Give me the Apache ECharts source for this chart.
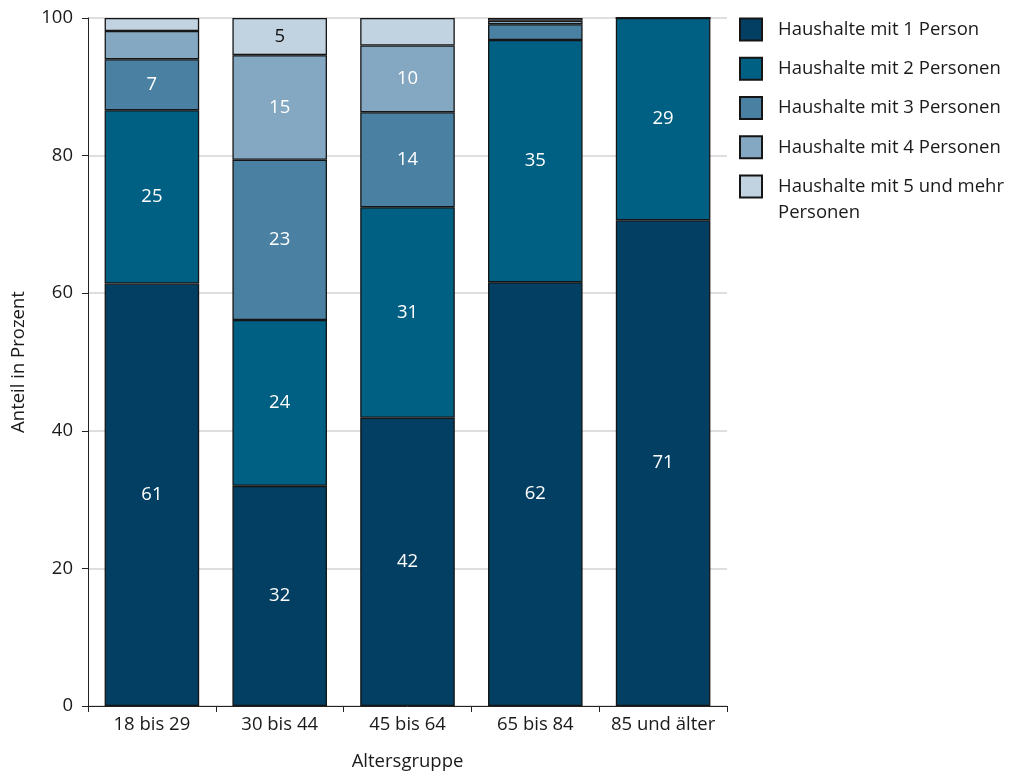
<!DOCTYPE html>
<html>
<head>
<meta charset="utf-8">
<script src="https://cdn.jsdelivr.net/npm/echarts@6/dist/echarts.min.js"></script>
<style>html,body{margin:0;padding:0;background:#fff;}#c{width:1011px;height:771px;}</style>
</head>
<body>
<div id="c"></div>
<script>
const categories = ['18 bis 29', '30 bis 44', '45 bis 64', '65 bis 84', '85 und älter'];
const seriesNames = ['Haushalte mit 1 Person', 'Haushalte mit 2 Personen', 'Haushalte mit 3 Personen', 'Haushalte mit 4 Personen', 'Haushalte mit 5 und mehr Personen'];
const p1 = [61.4, 32.0, 41.9, 61.6, 70.6];
const p2 = [25.2, 24.1, 30.6, 35.2, 29.4];
const p3 = [7.4, 23.3, 13.8, 2.3, 0];
const p4 = [4.1, 15.2, 9.7, 0.5, 0];
const p5 = [1.9, 5.4, 4.0, 0.4, 0];
const yTicks = [0, 20, 40, 60, 80, 100];

const colors = ['#023f62', '#006083', '#4a81a2', '#84a8c2', '#c1d2e1'];
const labelColors = ['#ffffff', '#ffffff', '#ffffff', '#ffffff', '#111111'];
const FONT = 'Open Sans';
const FS = 18.5;
const allData = [p1, p2, p3, p4, p5];

const legendBase = {
  orient: 'vertical', left: 739, padding: 0,
  itemWidth: 22, itemHeight: 22, itemGap: 15.25,
  icon: 'rect',
  textStyle: {fontFamily: FONT, fontSize: FS, color: '#1a1a1a', lineHeight: 24, padding: [0, 0, 0, 11]},
};

const chart = echarts.init(document.getElementById('c'), null, {renderer: 'canvas'});
chart.setOption({
  animation: false,
  backgroundColor: '#ffffff',
  textStyle: {fontFamily: FONT},
  grid: {left: 88, right: 284, top: 18, bottom: 65, containLabel: false, outerBoundsMode: 'none'},
  legend: [
    Object.assign({}, legendBase, {top: 17.5, data: seriesNames.slice(0, 4)}),
    Object.assign({}, legendBase, {
      top: 147.5,
      data: [seriesNames[4]],
      textStyle: Object.assign({}, legendBase.textStyle, {lineHeight: 26}),
      formatter: function () { return '\nHaushalte mit 5 und mehr\nPersonen'; }
    })
  ],
  xAxis: {
    type: 'category', data: categories,
    name: 'Altersgruppe', nameLocation: 'middle', nameGap: 46,
    nameTextStyle: {fontFamily: FONT, fontSize: FS, color: '#1a1a1a'},
    axisLine: {lineStyle: {color: '#222', width: 1}},
    axisTick: {show: true, length: 6, lineStyle: {color: '#222'}},
    axisLabel: {fontFamily: FONT, fontSize: FS, color: '#1a1a1a', margin: 9, interval: 0, hideOverlap: false},
  },
  yAxis: {
    type: 'value', min: 0, max: 100, interval: 20,
    name: 'Anteil in Prozent', nameLocation: 'middle', nameGap: 60, nameRotate: 90,
    nameTextStyle: {fontFamily: FONT, fontSize: FS, color: '#1a1a1a'},
    axisLine: {show: true, lineStyle: {color: '#222', width: 1}},
    axisTick: {show: true, length: 6, lineStyle: {color: '#222'}},
    axisLabel: {fontFamily: FONT, fontSize: FS, color: '#1a1a1a', margin: 15,
      formatter: function (v) { return yTicks.indexOf(v) >= 0 ? String(v) : ''; }},
    splitLine: {show: true, lineStyle: {color: '#d3d3d3', width: 1.5}},
  },
  series: allData.map(function (d, i) {
    return {
      name: seriesNames[i], type: 'bar', stack: 'total', barWidth: '74%',
      data: d,
      itemStyle: {color: colors[i], borderColor: '#151515', borderWidth: 1.3},
      label: {
        show: true, position: 'inside', fontFamily: FONT, fontSize: FS, color: labelColors[i],
        formatter: function (p) { return p.value >= 5 ? String(Math.round(p.value)) : ''; }
      }
    };
  })
});
</script>
</body>
</html>
